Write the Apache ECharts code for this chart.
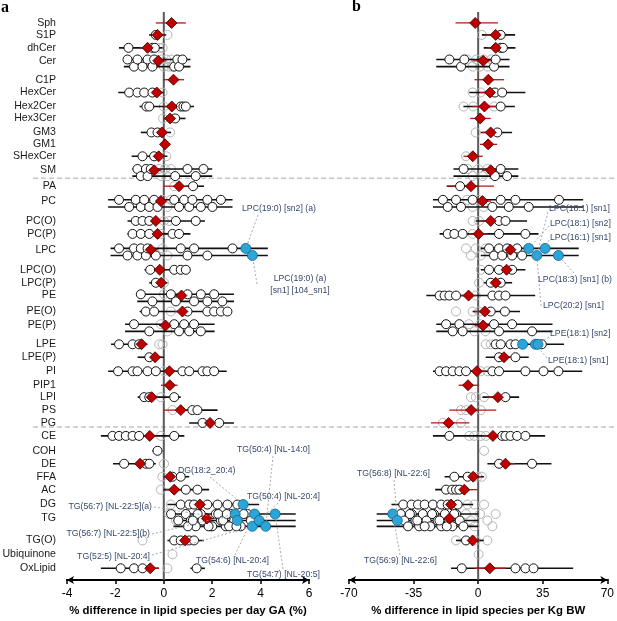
<!DOCTYPE html>
<html><head><meta charset="utf-8">
<script src="https://cdn.jsdelivr.net/npm/echarts@6/dist/echarts.min.js"></script>
<style>html,body{margin:0;padding:0;background:#fff}#c{width:617px;height:621px}</style>
</head><body><div id="c"></div>
<script>
// ---------------- DATA ----------------
const categories = ['Sph','S1P','dhCer','Cer','C1P','HexCer','Hex2Cer','Hex3Cer','GM3','GM1','SHexCer','SM','PA','PC','PC(O)','PC(P)','LPC','LPC(O)','LPC(P)','PE','PE(O)','PE(P)','LPE','LPE(P)','PI','PIP1','LPI','PS','PG','CE','COH','DE','FFA','AC','DG','TG','TG(O)','Ubiquinone','OxLipid'];
const ticksA = [-4,-2,0,2,4,6];
const ticksB = [-70,-35,0,35,70];
const titleA = '% difference in lipid species per day GA (%)';
const titleB = '% difference in lipid species per Kg BW';

// panel a: class estimate [mean, lo, hi]
const aRed = [[0.32,-0.33,0.91],[-0.26,-0.61,0.08],[-0.67,-1.0,-0.3],[-0.23,-0.5,0.1],[0.4,-0.03,0.84],[-0.29,-0.55,-0.05],[0.33,0,0.6],[0.26,0,0.5],[-0.08,-0.3,0.15],[0.05,-0.05,0.22],[-0.21,-0.45,0.05],[-0.4,-0.7,-0.1],[0.63,0,1.0],[-0.12,-0.35,0.1],[-0.33,-0.6,-0.05],[-0.26,-0.5,0],[-0.54,-0.8,-0.25],[-0.17,-0.4,0.1],[-0.11,-0.3,0.05],[0.73,0.4,1.05],[0.77,0.45,1.1],[0.07,-0.2,0.35],[-0.92,-1.1,-0.7],[-0.36,-0.6,-0.1],[0.23,0,0.5],[0.25,-0.12,0.57],[-0.5,-0.75,-0.25],[0.7,0,1.0],[1.91,1.5,2.3],[-0.58,-0.85,-0.3],null,[-0.98,-1.2,-0.75],[0.26,0,0.5],[0.43,0.1,0.75],[1.49,1.2,1.8],[1.78,1.5,2.1],[0.88,0.6,1.15],null,[-0.56,-0.9,-0.2]];
// significant species
const aWhite = [[],[-0.33],[-1.46,-0.47,-0.37],[-1.5,-1.23,-1.09,-0.88,-0.67,-0.47,-0.4,0.43,0.56,0.63,0.77],[],[-1.43,-1.09,-0.81,-0.47],[-0.72,-0.6,0.7,0.81,0.91],[0.47],[-0.51,-0.26],[],[-0.88,-0.4],[-1.09,-0.95,-0.74,-0.67,-0.54,0.47,0.98,1.32,1.64],[1.21],[-1.85,-1.43,-1.16,-0.95,-0.81,-0.6,-0.4,-0.26,0.43,0.63,0.84,1.05,1.18,1.53,1.8,2.01,2.36],[-1.16,-0.88,-0.6,0.5,1.32],[-1.29,-0.95,-0.6,0.36,0.63],[-1.85,-1.5,-1.23,-1.09,-0.95,-0.74,-0.67,-0.33,0.7,0.98,1.25,1.8,2.84],[-0.56,0.43,0.7,0.91],[-0.33],[-0.95,-0.47,0.29,0.5,0.98,1.25,1.53,1.8,2.08,2.42],[-0.74,-0.4,0.98,1.8,2.08,2.36,2.63],[-1.23,-0.6,0.43,0.63,0.84,1.05,1.25,1.53],[-1.85,-1.29,-1.02],[-0.6],[-1.89,-1.29,-1.09,-0.67,-0.33,0.77,1.05,1.6,1.8,2.08],[],[-0.81,-0.6,0.43],[1.18,1.39],[1.6,2.29],[-2.12,-1.85,-1.57,-1.29,-1.02,0.43],[-0.26],[-1.64,-0.74,-0.6],[0.36,0.7],[0.91,1.39],[0.7,1.05,1.25,1.8,2.22,2.63,3.04],[0.91,1.12,1.32,1.53,1.74,1.94,2.15,2.36,2.56,2.77,2.91,3.18,3.46,0.6,1.0,1.4,1.6,2.0,2.25,2.45,2.7,3.3,1.2,1.85,2.6,3.6,3.0,0.3],[0.43,0.7,1.05,1.25],[],[-1.78,-1.23,-0.88,1.36]];
// non-significant species
const aGray = [[],[0.15],[-0.15,-0.05],[-0.1,0,0.1,0.2,0.3,0.35],[],[-0.05],[0],[-0.03],[0.26],[],[0.1],[-0.2,-0.1,0.05,0.15,0.3],[0.43],[-0.05,0.15,0.29],[0,0.22],[-0.12],[-0.05,0.15],[],[0.01],[0.01],[0.29],[-0.12,0.15],[-0.19,-0.05],[],[0.01],[],[-0.12],[0.36],[],[-0.12],[],[0.01],[-0.06],[-0.12],[0.29],[0.22,0.5],[-0.88],[0.36],[0.15]];
// highlighted species
const aBlue = categories.map(c => ({'LPC':[3.39,3.66],'DG':[3.28],'TG':[2.95,3.04,3.66,3.75,3.94,4.21,4.6]})[c] || []);
// species CI span(s)
const aCI = [[],[[-0.6,0.1]],[[-1.85,-0.05]],[[-1.65,1.1]],[],[[-1.88,0]],[[-1.0,1.25]],[[0,0.9]],[[-0.95,0.3]],[],[[-1.33,0.15]],[[-1.3,2.0]],[[0.9,1.66]],[[-2.3,2.84]],[[-1.5,1.7]],[[-1.5,1.1]],[[-2.2,4.3]],[[-0.8,1.1]],[[-0.6,0.15]],[[-1.1,2.9]],[[-1.0,2.8]],[[-1.6,2.1]],[[-2.18,-0.68]],[[-1.08,0]],[[-2.3,2.6]],[],[[-1.08,0.7]],[[0.9,2.22]],[[1.05,2.9]],[[-2.6,0.85]],[[-0.47,-0.06]],[[-2.1,-0.33]],[[0,1.05]],[[0,1.87]],[[0.15,3.94]],[[0.4,5.45]],[[0.15,1.66]],[],[[-2.6,-0.2],[1.1,1.7]]];

// panel b
const bRed = [[-1.6,-12.3,10.7],[9.5,4,14],[9.5,5,14],[2.7,-3,8],[5.5,-2,14],[6.4,1,12],[3.4,-3,10],[1.1,-4.3,6.8],[6.8,2,12],[5.4,1,10.3],[-2.9,-8,2.5],[6.8,2,12],[-3.9,-17,8.6],[2.3,-2,7],[6.8,2,12],[0.2,-5,5],[17.5,12,23],[15.4,10,21],[9.5,5,14],[-5.2,-9.5,-1],[3.6,-2,9],[2.7,-2,7],null,[14,9,19],[-0.7,-5,4],[-5.5,-10.6,0.5],[10.7,5,16],[-3.8,-15.6,9.8],[-16,-25.6,-4.8],[8,3,13],null,[14.8,10,20],[-2.7,-7,1.5],[-7.5,-10.5,-0.4],[-14.7,-19,-10],[-15.6,-20,-11],[-3,-7,1],null,[6.3,-2,15]];
const bWhite = [[],[12.2],[12.2,13.4],[-15.6,-9.3,-7.5,8.6,9.5],[],[9.1,13],[12.2],[],[10.4],[],[],[-7.9,9.1,12.2,15.7],[-9.8],[-19.1,-16.5,-12,-9.3,-3,7.7,12.2,16.6,20.2,27.4,43.8],[11.3,14.8],[-16.5,-12.9,-8.4,11.3,25.6],[5.9,8.6,11.3,13,15.7,18.4,21.1,23.8],[5.9,11.3,18.4],[6.8,12.2],[-20.9,-18.2,-15.6,-12,7.7,11.3,14.8],[6.8,14.5],[-17.4,-13.8,-10.2,-8.4,8.6,11.3,18.4,29.2],[9.5,12.2,17.5,20.2,34.5],[11.3,20.2],[-20.9,-17.4,-13.8,-10.2,-6.6,7.7,11.3,25.6,35.4,43.5],[],[14.8],[],[],[-15.6,13,14.8,17.5,21.1,25.6],[],[11.3,29.2],[-12.9,-5.7],[-17.4,-14.1,-12,-10.2],[-40.6,-36.1,-32.6,-29,-24.5,-20,-16.5,-11.1],[-42,-40,-38,-36,-34,-32,-30,-28,-26,-24,-22,-20,-18,-16,-14,-12,-10,-8,-37,-33,-29,-25,-21,-17,-13],[-6.6],[],[-8.9,20.2,25.6,30]];
const bGray = [[],[2],[],[-6,-3,-1,1,3,5,7],[],[-3,1.4],[-7.9,-2.7,8.6],[],[-1.3],[],[-6.6],[-5.7,-3,0,2.5,5],[],[-6,-3,0,3],[-3,0.5],[-3],[-6.6,-3.9,-1.3,1.4,4.1],[1.4],[0.5],[-1.3],[-12,-3,0.5],[-5,-2,1,4],[4.1,6.8],[],[1.4,5],[],[-3.9,-1.3,3.2],[-9.3,-6.6,1.4],[-19.1,-9.3],[-4.8,-2.1,1.4,4.1],[3.2],[],[-0.4,2],[],[-5.7,-2.1,3.2],[-6.6,-4,-2,1,5,7.7,9.5],[-12,-1.3,5],[0.2],[]];
const bBlue = categories.map(c => ({'LPC':[27.4,31.8,36.3,43.5],'LPE':[24.1,31,32.4],'TG':[-46.3,-43.8]})[c] || []);
const bCI = [[],[[2,20]],[[3,20.2]],[[-22.7,17]],[],[[-4.8,25.6]],[[-8,19.9]],[],[[1.4,18.4]],[],[],[[-13.4,21.8]],[[-17,0]],[[-24.5,56.9]],[[-1.3,26.5]],[[-20.9,32.7]],[[1.4,54.5]],[[1.4,25.6]],[[3.2,18.4]],[[-28.1,30.9]],[[-3,22.7]],[[-22.7,40.3]],[[6.8,46.5]],[[4.1,27.4]],[[-24.5,56.4]],[],[[2.3,22.2]],[],[],[[-24.5,36.3]],[],[[5,39.7]],[[-18.2,3.2]],[[-23.3,-5]],[[-47,-2.7]],[[-55,0]],[[-12,3]],[],[[-14.7,51.5]]];

// annotations (text, panel, category, value of highlighted point)
const annText = ['LPC(19:0) [sn2] (a)','LPC(19:0) (a)\n[sn1] [104_sn1]','TG(50:4) [NL-14:0]','DG(18:2_20:4)','TG(50:4) [NL-20:4]','TG(56:7) [NL-22:5](a)','TG(56:7) [NL-22:5](b)','TG(52:5) [NL-20:4]','TG(54:6) [NL-20:4]','TG(54:7) [NL-20:5]','LPC(18:1) [sn1]','LPC(18:1) [sn2]','LPC(16:1) [sn1]','LPC(18:3) [sn1] (b)','LPC(20:2) [sn1]','LPE(18:1) [sn2]','LPE(18:1) [sn1]','TG(56:8) [NL-22:6]','TG(56:9) [NL-22:6]'];
const annPanel = [0,0,0,0,0,0,0,0,0,0,1,1,1,1,1,1,1,1,1];
const annCat = ['LPC','LPC','TG','DG','TG','TG','TG','TG','TG','TG','LPC','LPC','LPC','LPC','LPC','LPE','LPE','TG','TG'];
const annValue = [3.39,3.66,4.21,3.28,3.94,3.04,2.95,3.66,3.75,4.6,31.8,27.4,36.3,43.5,31.8,32.4,31,-43.8,-46.3];

// ---------------- LAYOUT ----------------
const rowPos = [1.0,1.92,2.92,3.92,5.38,6.37,7.45,8.37,9.45,10.37,11.29,12.37,13.6,14.75,16.28,17.28,18.5,20.05,21.05,22.04,23.27,24.35,25.8,26.8,27.88,28.96,29.88,30.88,31.87,32.87,34.02,35.02,36.02,37.02,38.17,39.25,40.94,42.01,43.09];
const spreadA = categories.map(c => ({'Cer':2,'SM':2,'PC':2,'LPC':2,'PE':2,'PE(P)':2,'TG':3})[c] || 1);
const spreadB = categories.map(c => ({'Cer':2,'SM':2,'PC':2,'LPC':2,'PE(P)':2,'TG':3})[c] || 1);
const separators = [12.98, 32.18];
const annTextPos = [[242,209,'left'],[300,285,'center'],[237,450,'left'],[178,471,'left'],[247,497,'left'],[152,507,'right'],[150,534,'right'],[150,557,'right'],[196,561,'left'],[247,575,'left'],[549,209,'left'],[550,224,'left'],[550,238,'left'],[538,280,'left'],[543,306,'left'],[550,334,'left'],[548,361,'left'],[357,474,'left'],[364,561,'left']];
const annLeadFrom = [[258,215],[257,284],[273,456],[210,477],[278,503],[154,507],[152,534],[152,555],[235,555],[283,569],[548,212],[549,226],[549,240],[574,273],[541,306],[549,337],[547,358],[394,480],[400,555]];

const FONT = 'Liberation Sans';
function subOff(i, s){ if (s === 2) return [-0.1, 0.45][i % 2]; if (s === 3) return [-0.35, 0.15, 0.6][i % 3]; return 0; }
function pts(list, spread){ const out = []; list.forEach((vs, c) => (vs || []).forEach((v, i) => out.push([v, rowPos[c] + subOff(i, spread[c])]))); return out; }
function ciSegs(ci, spread){ const out = []; ci.forEach((rs, c) => rs.forEach(r => { for (let k = 0; k < spread[c]; k++) out.push([r[0], r[1], rowPos[c] + subOff(k, spread[c])]); })); return out; }
function redSegs(red){ const out = []; red.forEach((r, c) => { if (r) out.push([r[1], r[2], rowPos[c]]); }); return out; }
function redPts(red){ const out = []; red.forEach((r, c) => { if (r) out.push([r[0], rowPos[c]]); }); return out; }

function segSeries(data, xi, yi, color, width, z){
  return {type:'custom', xAxisIndex:xi, yAxisIndex:yi, z:z, silent:true, data:data, encode:{x:[0,1], y:2},
    renderItem:(p, api) => { const a = api.coord([api.value(0), api.value(2)]); const b = api.coord([api.value(1), api.value(2)]);
      return {type:'line', shape:{x1:a[0], y1:a[1], x2:b[0], y2:b[1]}, style:{stroke:color, lineWidth:width}}; }};
}
function scat(data, xi, yi, sym, size, fill, border, bw, z){
  return {type:'scatter', xAxisIndex:xi, yAxisIndex:yi, z:z, silent:true, symbol:sym, symbolSize:size, data:data, clip:false,
    itemStyle:{color:fill, borderColor:border, borderWidth:bw, opacity:1}};
}
function zeroLine(xi, yi){
  return {type:'custom', xAxisIndex:xi, yAxisIndex:yi, z:1, silent:true, data:[[0, 0.15, 44]], encode:{x:0, y:[1,2]},
    renderItem:(p, api) => { const a = api.coord([0, api.value(1)]); const b = api.coord([0, api.value(2)]);
      return {type:'line', shape:{x1:a[0], y1:a[1], x2:b[0], y2:b[1]}, style:{stroke:'#5a5a5a', lineWidth:2}}; }};
}
function panelSeries(xi, yi, red, white, gray, blue, ci, spread){
  return [
    zeroLine(xi, yi),
    scat(pts(gray, spread), xi, yi, 'circle', 9, 'rgba(255,255,255,0)', '#b5b5b5', 1, 2),
    segSeries(ciSegs(ci, spread), xi, yi, '#111', 1.6, 3),
    segSeries(redSegs(red), xi, yi, '#b01818', 1.3, 4),
    scat(pts(white, spread), xi, yi, 'circle', 9, '#ffffff', '#111', 1, 5),
    scat(redPts(red), xi, yi, 'diamond', 11, '#c00000', '#3a0000', 0.8, 6),
    scat(pts(blue, spread), xi, yi, 'circle', 10, '#27a6dc', '#1b5f80', 0.8, 7)
  ];
}
function annSeries(panel, xi, yi, blue, spread){
  const idx = annText.map((t, i) => i).filter(i => annPanel[i] === panel);
  const data = idx.map(i => { const c = categories.indexOf(annCat[i]); const k = blue[c].indexOf(annValue[i]); return [annValue[i], rowPos[c] + subOff(k, spread[c]), i]; });
  return {type:'custom', xAxisIndex:xi, yAxisIndex:yi, z:8, silent:true, clip:false, data:data, encode:{x:0, y:1},
    renderItem:(p, api) => { const i = api.value(2); const t = api.coord([api.value(0), api.value(1)]); const f = annLeadFrom[i]; const tp = annTextPos[i];
      return {type:'group', children:[
        {type:'line', shape:{x1:f[0], y1:f[1], x2:t[0], y2:t[1]}, style:{stroke:'#8a94a6', lineWidth:0.8, lineDash:[2,2]}, z2:0},
        {type:'text', x:tp[0], y:tp[1], style:{text:annText[i], fill:'#35486a', fontSize:8.7, fontFamily:FONT, align:tp[2], verticalAlign:'middle', lineHeight:12}, z2:10}
      ]}; }};
}

const chart = echarts.init(document.getElementById('c'), null, {renderer:'canvas'});
const GH = 573;
function xAxes(grid, min, max, interval, title){
  return [
    {gridIndex:grid, type:'value', min:min, max:max, interval:interval, position:'bottom',
     axisLine:{show:true, onZero:false, lineStyle:{color:'#000', width:2}, symbol:['arrow','arrow'], symbolSize:[6,7]},
     axisTick:{show:true, length:4, lineStyle:{color:'#000', width:1.5}},
     axisLabel:{fontSize:12, color:'#000', margin:8, fontFamily:FONT},
     splitLine:{show:false},
     name:title, nameLocation:'middle', nameGap:23, nameTextStyle:{fontSize:11.4, fontWeight:'bold', color:'#000', fontFamily:FONT}},
    {gridIndex:grid, type:'value', min:min, max:max, interval:interval, position:'top', offset:-GH,
     axisLine:{show:false}, axisTick:{show:true, length:4, lineStyle:{color:'#000', width:1.5}}, axisLabel:{show:false}, splitLine:{show:false}}
  ];
}

const labelSeries = {type:'custom', xAxisIndex:0, yAxisIndex:0, z:9, silent:true, clip:false,
  data:categories.map((c, i) => [-4, rowPos[i], i]), encode:{x:0, y:1},
  renderItem:(p, api) => { const q = api.coord([api.value(0), api.value(1)]);
    return {type:'text', x:q[0] - 11, y:q[1], style:{text:categories[api.value(2)], fill:'#1a1a1a', fontSize:10.6, fontFamily:FONT, align:'right', verticalAlign:'middle'}}; }};
const sepSeries = {type:'custom', xAxisIndex:0, yAxisIndex:0, z:1, silent:true, clip:false,
  data:separators.map(s => [0, s]), encode:{x:0, y:1},
  renderItem:(p, api) => { const q = api.coord([0, api.value(1)]);
    return {type:'line', shape:{x1:33, y1:q[1], x2:616, y2:q[1]}, style:{stroke:'#c4c4c4', lineWidth:1.5, lineDash:[5,3]}}; }};

chart.setOption({
  animation:false,
  backgroundColor:'#fff',
  grid:[{left:67, top:10, width:242, height:GH}, {left:349, top:10, width:261, height:GH}],
  xAxis:[].concat(xAxes(0, -4, 6, 2, titleA), xAxes(1, -70, 70, 35, titleB)),
  yAxis:[{gridIndex:0, type:'value', min:0, max:44, inverse:true, show:false}, {gridIndex:1, type:'value', min:0, max:44, inverse:true, show:false}],
  graphic:[
    {type:'text', left:1, top:0, style:{text:'a', fontSize:16, fontWeight:'bold', fontFamily:'Liberation Serif', fill:'#000'}},
    {type:'text', left:352, top:-1, style:{text:'b', fontSize:16, fontWeight:'bold', fontFamily:'Liberation Serif', fill:'#000'}}
  ],
  series:[sepSeries, labelSeries]
    .concat(panelSeries(0, 0, aRed, aWhite, aGray, aBlue, aCI, spreadA))
    .concat(panelSeries(2, 1, bRed, bWhite, bGray, bBlue, bCI, spreadB))
    .concat([annSeries(0, 0, 0, aBlue, spreadA), annSeries(1, 2, 1, bBlue, spreadB)])
});
</script></body></html>
